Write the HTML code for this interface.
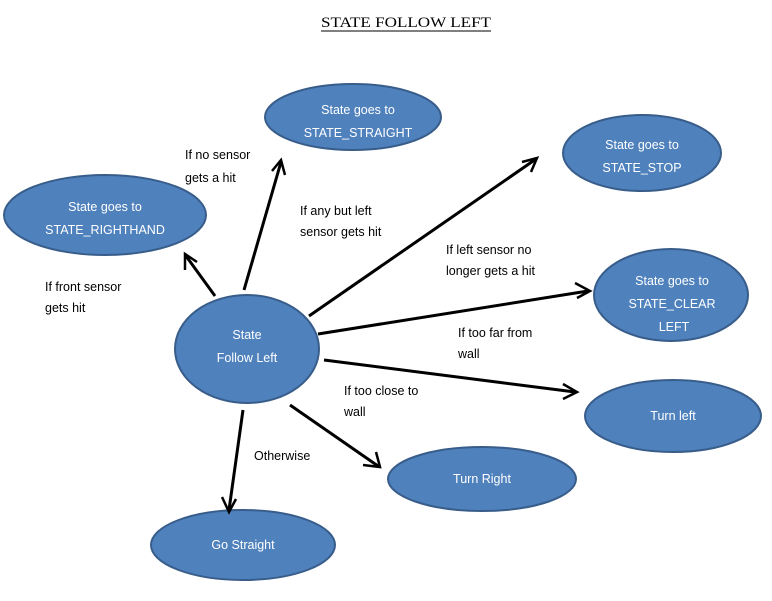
<!DOCTYPE html>
<html><head><meta charset="utf-8"><style>
html,body{margin:0;padding:0;background:#fff;}
svg{display:block;font-family:"Liberation Sans",sans-serif;}
.e{fill:#4f81bd;stroke:#385d8a;stroke-width:2;}
.w{fill:#fff;font-size:12.5px;text-anchor:middle;}
.b{fill:#000;font-size:12.5px;}
.l{stroke:#000;stroke-width:3;fill:none;}
.h{stroke:#000;stroke-width:2.5;fill:none;}
</style></head><body>
<svg width="772" height="601" viewBox="0 0 772 601">
<text x="406" y="27" text-anchor="middle" style="font-family:'Liberation Serif',serif;font-size:15px" textLength="170" lengthAdjust="spacingAndGlyphs">STATE  FOLLOW  LEFT</text>
<line x1="321" y1="31" x2="491" y2="31" stroke="#000" stroke-width="1"/>

<ellipse class="e" cx="353" cy="117" rx="88" ry="33"/>
<text class="w" x="358" y="114">State goes to</text><text class="w" x="358" y="137">STATE_STRAIGHT</text>

<ellipse class="e" cx="642" cy="153" rx="79" ry="38"/>
<text class="w" x="642" y="149">State goes to</text><text class="w" x="642" y="172">STATE_STOP</text>

<ellipse class="e" cx="105" cy="215" rx="101" ry="40"/>
<text class="w" x="105" y="211">State goes to</text><text class="w" x="105" y="234">STATE_RIGHTHAND</text>
<clipPath id="c"><rect x="0" y="0" width="772" height="246"/></clipPath>
<text class="w" x="108" y="257" clip-path="url(#c)">CORNER</text>

<ellipse class="e" cx="671" cy="295" rx="77" ry="46"/>
<text class="w" x="672" y="285">State goes to</text><text class="w" x="672" y="308">STATE_CLEAR</text><text class="w" x="674" y="331">LEFT</text>

<ellipse class="e" cx="247" cy="349" rx="72" ry="54"/>
<text class="w" x="247" y="339">State</text><text class="w" x="247" y="362">Follow Left</text>

<ellipse class="e" cx="673" cy="416" rx="88" ry="36"/>
<text class="w" x="673" y="420">Turn left</text>

<ellipse class="e" cx="482" cy="479" rx="94" ry="32"/>
<text class="w" x="482" y="483">Turn Right</text>

<ellipse class="e" cx="243" cy="545" rx="92" ry="35"/>
<text class="w" x="243" y="549">Go Straight</text>

<g class="l">
<line x1="244" y1="290" x2="281" y2="162"/>
<line x1="215" y1="296" x2="186" y2="256"/>
<line x1="309" y1="316" x2="536" y2="159"/>
<line x1="318" y1="334" x2="588" y2="291"/>
<line x1="324" y1="360" x2="575" y2="392"/>
<line x1="290" y1="405" x2="378" y2="466"/>
<line x1="243" y1="410" x2="229" y2="510"/>
</g>
<g class="h">
<polyline points="272,171 281,160 285,175"/>
<polyline points="185,270 185,254 197,262"/>
<polyline points="522,162 537,158 531,172"/>
<polyline points="575,283 590,291 577,298"/>
<polyline points="563,384 577,392 563,399"/>
<polyline points="363,465 380,467 376,452"/>
<polyline points="222,497 229,512 236,499"/>
</g>

<text class="b" x="185" y="159">If no sensor</text>
<text class="b" x="185" y="182">gets a hit</text>
<text class="b" x="300" y="215">If any but left</text>
<text class="b" x="300" y="236">sensor gets hit</text>
<text class="b" x="446" y="254">If left sensor no</text>
<text class="b" x="446" y="275">longer gets a hit</text>
<text class="b" x="45" y="291">If front sensor</text>
<text class="b" x="45" y="312">gets hit</text>
<text class="b" x="458" y="337">If too far from</text>
<text class="b" x="458" y="358">wall</text>
<text class="b" x="344" y="395">If too close to</text>
<text class="b" x="344" y="416">wall</text>
<text class="b" x="254" y="460">Otherwise</text>
</svg>
</body></html>
